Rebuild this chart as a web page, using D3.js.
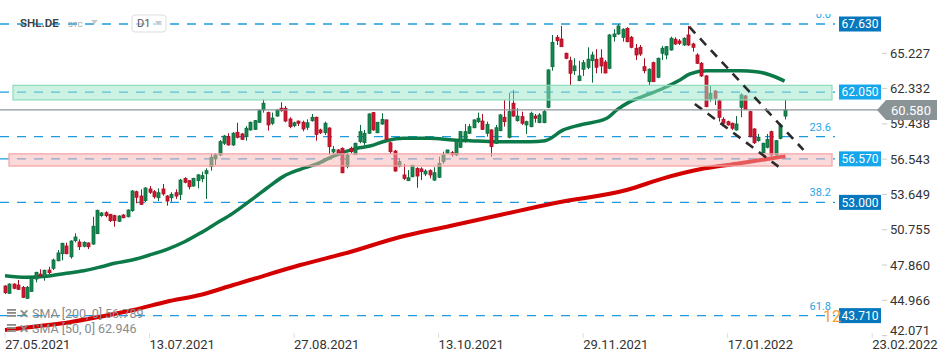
<!DOCTYPE html>
<html><head><meta charset="utf-8">
<script src="https://cdn.jsdelivr.net/npm/d3@7"></script>
<style>body{margin:0;background:#fff;} svg{display:block;font-family:Roboto,"Noto Sans",sans-serif;}</style>
</head><body><svg id="c" width="950" height="361"></svg>
<script>
// ---- data ----
const open=[46.14,45.54,46.30,46.22,46.03,45.13,45.70,46.71,47.12,46.85,
47.45,47.59,48.21,48.79,49.42,48.54,49.86,49.75,49.40,49.67,
49.58,50.43,51.91,52.15,52.02,51.91,51.45,51.96,51.82,52.32,
53.87,53.52,53.14,54.10,53.87,53.38,54.10,53.52,53.38,53.79,
53.66,54.97,54.78,54.34,54.78,54.94,55.35,55.93,56.56,56.89,
57.85,58.39,57.71,58.75,58.61,58.39,58.94,58.99,59.57,60.58,
60.36,59.49,60.08,60.72,60.72,59.84,59.29,59.67,59.57,59.16,
59.70,59.98,58.94,58.71,59.10,57.13,57.30,57.43,55.93,57.43,
56.94,57.98,57.90,58.67,60.36,58.71,59.43,59.76,57.89,57.21,
55.98,55.25,54.78,55.10,55.79,55.74,55.33,55.60,54.83,55.06,
56.34,57.02,57.07,56.89,57.52,58.12,58.67,59.12,59.62,59.67,
58.67,58.94,57.85,58.88,59.98,58.34,61.13,59.70,60.03,59.35,
59.21,60.08,59.54,59.54,60.80,64.13,66.54,66.40,65.23,64.62,
63.80,62.98,63.92,64.08,64.62,64.74,64.84,64.51,64.00,66.59,
66.81,66.54,67.28,66.54,65.64,65.72,64.13,62.90,64.46,63.26,
65.23,65.09,65.50,66.38,66.24,65.91,66.73,65.99,65.09,64.41,
63.37,61.45,62.13,61.34,59.81,59.62,59.49,58.94,60.80,61.73,
60.44,59.02,58.06,57.07,57.52,58.80,56.89,58.25,60.08];
const high=[46.20,46.36,46.36,46.63,46.14,46.14,46.90,47.31,47.51,47.48,
47.72,48.38,49.09,49.69,49.69,49.89,50.46,49.97,49.81,49.72,
51.82,52.40,52.21,52.27,52.05,51.99,51.94,52.05,52.43,54.01,
53.96,54.07,54.24,54.34,54.01,54.15,54.51,53.60,53.83,54.07,
54.92,55.06,54.83,55.02,55.33,55.52,55.79,56.97,57.02,58.12,
58.53,58.67,58.77,59.53,58.69,59.26,59.62,59.76,60.63,61.45,
60.44,60.36,60.66,61.21,60.90,59.98,59.62,59.70,59.70,59.81,
60.25,60.03,59.04,59.62,59.16,57.62,57.35,57.52,57.02,57.57,
57.89,59.35,58.94,60.31,60.41,59.57,60.31,59.81,57.98,57.30,
56.61,56.15,55.65,56.07,55.88,55.88,55.71,55.71,55.88,56.75,
57.16,57.30,57.21,58.17,58.85,59.43,59.43,59.81,60.36,60.25,
59.62,59.00,59.35,60.25,61.40,62.00,62.22,60.72,60.44,59.70,
60.44,60.25,60.33,60.58,63.92,66.73,66.73,67.47,65.28,64.95,
64.82,64.62,64.68,65.72,65.36,65.56,65.56,64.68,66.81,67.20,
67.63,67.28,67.36,66.65,65.99,65.91,64.82,64.00,64.54,64.87,
65.83,65.83,66.59,66.54,66.40,66.54,67.47,66.10,65.23,64.51,
63.45,62.55,62.22,61.45,59.98,59.70,59.54,60.08,61.95,61.81,
60.52,59.08,58.61,57.89,58.61,58.88,58.12,59.49,61.40];
const low=[45.48,45.48,45.87,45.81,45.15,45.10,45.67,46.44,46.90,46.57,
47.12,47.45,48.17,48.25,48.74,48.38,49.72,49.09,49.31,49.17,
49.53,50.41,51.82,51.77,51.39,51.00,51.39,51.69,51.77,52.23,
52.92,52.78,53.03,53.69,53.30,53.11,53.55,52.73,53.05,53.28,
53.19,54.56,54.07,54.28,54.15,54.65,53.28,55.60,56.07,56.80,
57.71,57.65,57.62,58.25,58.12,58.06,58.88,58.94,59.54,60.36,
58.88,59.35,60.03,60.44,59.57,59.08,59.16,59.26,58.83,58.94,
59.62,58.06,58.61,58.53,56.89,56.97,56.97,55.38,55.79,57.02,
56.89,57.85,57.71,58.61,58.88,58.67,59.35,58.12,56.97,55.52,
55.88,54.83,54.75,55.06,54.20,54.83,55.16,54.97,54.75,55.00,
56.15,56.97,56.75,56.80,57.46,57.89,58.61,59.08,59.49,58.94,
58.39,56.75,57.79,58.83,59.21,58.25,60.03,59.62,59.35,58.61,
59.16,59.54,59.49,59.49,60.72,63.80,65.91,65.77,64.74,62.55,
63.45,62.96,63.37,63.92,62.82,63.59,63.59,63.59,63.92,66.18,
66.75,66.18,66.13,65.64,64.68,65.01,63.59,62.63,62.90,63.18,
64.68,64.74,65.44,65.91,65.91,65.83,65.83,65.36,64.35,63.28,
60.80,61.26,60.99,59.62,59.35,59.29,58.94,58.88,59.98,60.58,
58.34,57.79,57.98,57.02,57.43,56.80,56.80,58.17,59.80];
const close=[45.59,46.30,45.95,45.87,45.21,46.03,46.85,47.26,46.96,47.43,
47.23,48.27,48.85,49.64,48.79,49.83,50.16,49.36,49.72,49.36,
51.04,52.35,52.13,51.91,51.50,51.50,51.88,51.74,52.37,53.93,
53.42,52.84,54.18,53.83,53.46,53.79,53.69,53.11,53.66,53.52,
54.83,54.65,54.28,54.97,55.25,55.19,55.60,56.70,56.89,57.98,
58.44,57.71,58.67,58.34,58.17,59.08,59.57,59.70,60.52,61.13,
59.35,59.92,60.58,60.52,59.67,59.21,59.53,59.49,59.02,59.53,
59.98,58.58,58.71,59.49,57.57,57.35,57.02,55.43,56.89,57.16,
57.85,58.80,58.67,60.25,58.94,59.57,59.81,58.17,57.16,55.57,
56.34,54.97,55.02,56.04,55.16,55.52,55.57,55.25,55.43,56.20,
56.89,57.30,56.94,58.12,58.80,58.80,59.21,59.76,59.90,58.99,
59.40,57.57,59.12,60.17,59.62,60.44,60.08,60.08,59.49,59.62,
60.31,59.90,60.17,60.44,63.86,66.13,66.26,65.77,64.82,63.59,
64.19,63.37,64.46,64.74,65.09,64.08,64.19,63.61,66.73,66.81,
67.47,67.20,66.18,65.72,65.09,65.17,63.80,63.92,62.90,64.82,
65.64,65.77,66.46,65.99,66.05,66.46,65.91,65.72,64.41,63.37,
60.85,61.95,61.54,59.98,59.49,59.35,59.08,59.43,61.81,60.63,
58.39,57.89,58.34,57.85,58.17,56.89,58.06,59.35,60.58];
// moving averages: [candle index, value]
const sma50=[[0,46.98],[5,46.85],[10,46.96],[14,47.18],[18,47.39],[22,47.72],[25,48.00],[29,48.27],[33,48.68],[37,49.15],[41,49.77],[44.5,50.46],[48,51.23],[52,52.10],[56,53.14],[60,54.22],[63.5,55.11],[67.4,55.71],[71.2,56.15],[75,56.80],[80.3,57.43],[83.3,57.62],[87.1,58.06],[91,58.26],[97,58.26],[102.4,58.12],[106.2,58.06],[112.3,57.98],[119.9,57.98],[123.3,58.06],[127.5,58.94],[131.3,59.35],[137.4,59.90],[139.7,60.58],[142.7,61.26],[146.5,61.81],[150.3,62.36],[154.1,63.04],[156.4,63.53],[160.2,63.80],[164,63.80],[167.8,63.80],[171.6,63.72],[174.7,63.45],[178,62.95]];
const sma200=[[0,42.53],[6.5,42.80],[14.1,43.13],[21.7,43.62],[29.3,44.17],[36.9,44.85],[44.5,45.40],[52.1,46.22],[55.9,46.63],[67.4,47.86],[78.8,48.93],[90.2,50.16],[101.6,51.06],[113,51.96],[125.6,52.95],[141.9,54.01],[150.3,54.97],[158.7,55.71],[167.8,56.20],[178.2,56.79]];
const yTicks=[42.071,44.966,47.860,50.755,53.649,56.543,59.438,62.332,65.227];
const xTickIdx=[0,33,66,99,132,165,198];
const xTickLabels=["27.05.2021","13.07.2021","27.08.2021","13.10.2021","29.11.2021","17.01.2022","23.02.2022"];
const fibValues=[67.630,58.40,53.000,43.710];
const fibNames=["0.0","23.6","38.2","61.8"];
const fibBoxed=[true,false,true,true];
const zoneValues=[62.050,56.570];
const zoneTop=[62.60,56.98];
const zoneBottom=[61.40,55.98];
const trendUpper=[[156.2,67.41],[182.3,57.30]];
const trendLower=[[157.5,61.07],[176.6,55.93]];
const lastPrice=60.580;
const legendRows=["SMA [200, 0] 56.789","SMA [50, 0] 62.946"];

// ---- scales ----
const svg=d3.select("#c");
const x=d3.scaleLinear().domain([0,198]).range([5,872.2]);
const y=d3.scaleLinear().domain([42.071,65.227]).range([335.6,53.3]);
const plotR=835;

svg.append("defs").append("clipPath").attr("id","pc").append("rect")
  .attr("x",0).attr("y",14).attr("width",plotR).attr("height",322);
const g=svg.append("g").attr("clip-path","url(#pc)");

// level lines
const blue="#1c9be0";
fibValues.forEach((v,k)=>{
  g.append("line").attr("x1",0).attr("x2",plotR).attr("y1",y(v)).attr("y2",y(v))
   .attr("stroke",blue).attr("stroke-width",1.3).attr("stroke-dasharray","9,8");
  g.append("text").attr("x",831).attr("y",y(v)-6).attr("text-anchor","end")
   .attr("font-size",11).attr("fill","#2aa3e6").text(fibNames[k]);
});
zoneValues.forEach(v=>{
  g.append("line").attr("x1",0).attr("x2",plotR).attr("y1",y(v)).attr("y2",y(v))
   .attr("stroke",blue).attr("stroke-width",1.3).attr("stroke-dasharray","9,8");
});
// last price line
svg.append("line").attr("x1",0).attr("x2",878).attr("y1",y(lastPrice)).attr("y2",y(lastPrice))
  .attr("stroke","#8c9599").attr("stroke-width",1.3);

// SMA lines
const line=d3.line().x(d=>x(d[0])).y(d=>y(d[1])).curve(d3.curveMonotoneX);
g.append("path").datum(sma200).attr("d",line).attr("fill","none").attr("stroke","#d40000").attr("stroke-width",4);
g.append("path").datum(sma50).attr("d",line).attr("fill","none").attr("stroke","#0b7a48").attr("stroke-width",3.5);

// candles
const idx=d3.range(open.length);
const up=i=>close[i]>=open[i];
g.selectAll("line.w").data(idx).join("line").attr("class","w")
  .attr("x1",i=>Math.round(x(i))+0.5).attr("x2",i=>Math.round(x(i))+0.5)
  .attr("y1",i=>y(high[i])).attr("y2",i=>y(low[i]))
  .attr("stroke",i=>up(i)?"#0c6a3d":"#a80f24").attr("stroke-width",1);
g.selectAll("rect.b").data(idx).join("rect").attr("class","b")
  .attr("x",i=>Math.round(x(i))-1)
  .attr("y",i=>y(Math.max(open[i],close[i])))
  .attr("width",3)
  .attr("height",i=>Math.max(1,Math.abs(y(open[i])-y(close[i]))))
  .attr("fill",i=>up(i)?"#14884f":"#d3172f")
  .attr("stroke",i=>up(i)?"#0c6a3d":"#a80f24").attr("stroke-width",0.8);

// zones (over candles)
const zoneFill=["rgb(153,229,199)","rgb(247,179,179)"];
const zoneStroke=["#8ddcbc","#f2a2a2"];
zoneValues.forEach((v,k)=>{
  g.append("rect").attr("x",k==0?13:9).attr("y",y(zoneTop[k])).attr("width",plotR-3-(k==0?13:9))
   .attr("height",y(zoneBottom[k])-y(zoneTop[k]))
   .attr("fill",zoneFill[k]).attr("fill-opacity",0.5)
   .attr("stroke",zoneStroke[k]).attr("stroke-width",1.2);
});

// trend lines
[trendUpper,trendLower].forEach(t=>{
  g.append("line").attr("x1",x(t[0][0])).attr("y1",y(t[0][1])).attr("x2",x(t[1][0])).attr("y2",y(t[1][1]))
   .attr("stroke","#2b2b2b").attr("stroke-width",2.6).attr("stroke-dasharray","9,7");
});

// right axis
const ya=svg.append("g");
yTicks.forEach(v=>{
  const yy=Math.min(y(v),330);
  ya.append("line").attr("x1",882).attr("x2",887).attr("y1",y(v)).attr("y2",y(v)).attr("stroke","#ccc");
  ya.append("text").attr("x",890).attr("y",yy).attr("dy","0.35em").attr("font-size",13).attr("fill","#333").text(v.toFixed(3));
});
// x axis
xTickIdx.forEach((t,k)=>{
  svg.append("line").attr("x1",x(t)).attr("x2",x(t)).attr("y1",333).attr("y2",338).attr("stroke","#ddd");
  svg.append("text").attr("x",x(t)).attr("y",349).attr("font-size",13).attr("fill","#333").text(xTickLabels[k]);
});

// right label boxes
function box(v,col){
  const yy=y(v);
  svg.append("rect").attr("x",839).attr("y",yy-7.5).attr("width",42).attr("height",15).attr("fill",col);
  svg.append("text").attr("x",860).attr("y",yy).attr("dy","0.36em").attr("text-anchor","middle")
    .attr("font-size",12).attr("fill","#fff").text(v.toFixed(3));
}
fibValues.forEach((v,k)=>{ if(fibBoxed[k]) box(v,"#0778bd"); });
zoneValues.forEach(v=>box(v,"#16a6ec"));
// orange marker
svg.append("text").attr("x",823).attr("y",y(43.710)+1).attr("dy","0.36em").attr("font-size",16).attr("fill","#f5a030").text("12");
// last price tag
const py=y(lastPrice);
svg.append("path").attr("d",`M877,${py} L886,${py-10} L937,${py-10} L937,${py+10} L886,${py+10} Z`).attr("fill","#8a9396");
svg.append("text").attr("x",911).attr("y",py).attr("dy","0.36em").attr("text-anchor","middle").attr("font-size",13).attr("fill","#fff").text(lastPrice.toFixed(3));

// header
svg.append("text").attr("x",20).attr("y",27).attr("font-size",11.5).attr("font-weight",600).attr("fill","#3a3f44").text("SHL.DE");
svg.append("text").attr("x",68).attr("y",27).attr("font-size",8).attr("fill","#9aa0a6").text("STC");
svg.append("path").attr("d","M91,20 L98,20 L94.5,24 Z").attr("fill","#c8c8c8");
svg.append("rect").attr("x",132).attr("y",15).attr("width",34).attr("height",17).attr("rx",3).attr("fill","#fff").attr("fill-opacity",0.6).attr("stroke","#ddd");
svg.append("text").attr("x",137).attr("y",27).attr("font-size",11).attr("fill","#555").text("D1");
svg.append("path").attr("d","M155,21 L162,21 L158.5,25 Z").attr("fill","#c8c8c8");

// legend
legendRows.forEach((t,k)=>{
  const yy=314+k*15;
  const lg=svg.append("g").attr("fill","#8a8a8a");
  lg.append("rect").attr("x",7).attr("y",yy-5).attr("width",9).attr("height",1.8);
  lg.append("rect").attr("x",7).attr("y",yy-2).attr("width",9).attr("height",1.8);
  lg.append("rect").attr("x",7).attr("y",yy+1).attr("width",9).attr("height",1.8);
  lg.append("text").attr("x",19).attr("y",yy).attr("dy","0.35em").attr("font-size",12).attr("font-weight",700).text("✕");
  lg.append("text").attr("x",32).attr("y",yy).attr("dy","0.35em").attr("font-size",12.5).text(t);
});
</script></body></html>
